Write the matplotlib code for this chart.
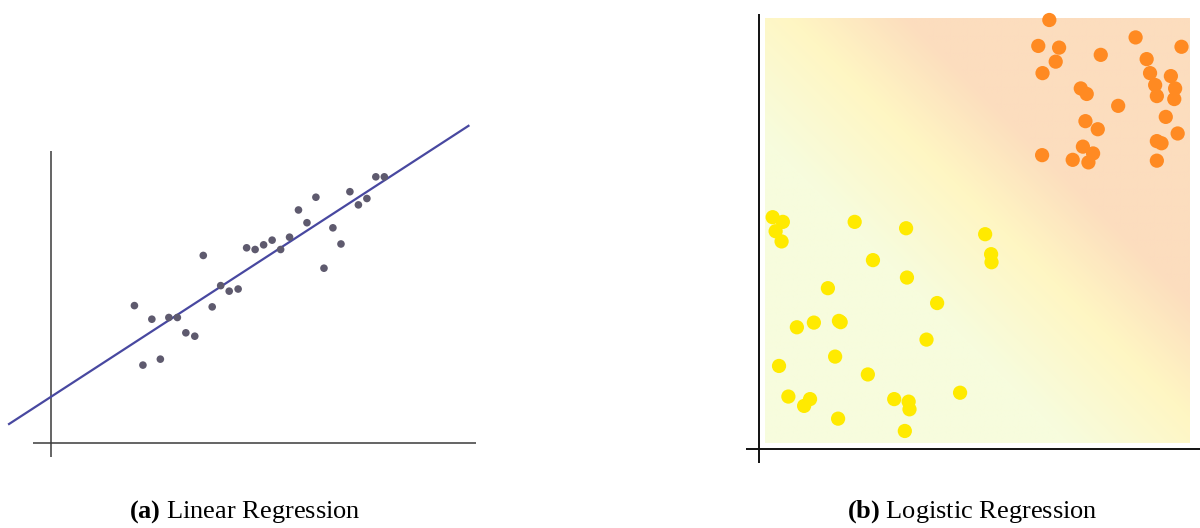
"""
Two-panel sketch: (a) linear regression fit, (b) logistic regression
decision field with two classes.
"""

import matplotlib
matplotlib.use("Agg")
import matplotlib.pyplot as plt
import numpy as np
from matplotlib.colors import LinearSegmentedColormap

plt.rcParams["mathtext.fontset"] = "custom"
plt.rcParams["mathtext.rm"] = "Liberation Serif"
plt.rcParams["mathtext.bf"] = "Liberation Serif:bold"

# ---------------------------------------------------------------------------
# Data: panel (a)
# ---------------------------------------------------------------------------
lin_x = [1.97, 2.38, 2.78, 2.98, 3.18, 3.39, 2.17, 2.58, 3.59, 3.80,
         4.00, 4.20, 4.41, 4.61, 4.81, 5.01, 5.21, 5.41, 5.62, 5.83,
         6.03, 6.24, 6.43, 6.64, 6.83, 7.04, 7.24, 7.44, 7.65, 7.85]
lin_y = [3.24, 2.92, 2.96, 2.96, 2.60, 2.52, 1.84, 1.98, 4.42, 3.21,
         3.71, 3.58, 3.63, 4.60, 4.56, 4.67, 4.78, 4.56, 4.85, 5.49,
         5.19, 5.79, 4.12, 5.07, 4.69, 5.92, 5.61, 5.76, 6.27, 6.27]
fit_slope = 0.649
fit_intercept = 1.09
fit_x_range = [-0.98, 9.83]

# ---------------------------------------------------------------------------
# Data: panel (b)
# ---------------------------------------------------------------------------
pos_x = [6.69, 6.43, 6.92, 6.84, 6.53, 7.90, 8.72, 9.80, 8.98, 9.06,
         9.55, 9.18, 9.65, 9.22, 9.63, 7.43, 7.57, 8.31, 9.43, 7.54,
         7.83, 9.71, 9.22, 9.33, 7.48, 7.72, 6.52, 7.24, 7.61, 9.22]
pos_y = [9.96, 9.35, 9.31, 8.98, 8.71, 9.14, 9.55, 9.33, 9.04, 8.71,
         8.64, 8.43, 8.35, 8.17, 8.10, 8.35, 8.22, 7.94, 7.68, 7.58,
         7.39, 7.29, 7.11, 7.06, 6.98, 6.82, 6.78, 6.67, 6.61, 6.65]
neg_x = [0.18, 0.42, 0.25, 0.39, 2.11, 3.32, 5.18, 5.32, 5.33, 2.54,
         3.34, 1.48, 4.05, 0.75, 1.15, 1.74, 1.78, 3.80, 1.65, 0.33,
         2.42, 0.55, 1.06, 0.92, 3.04, 3.38, 3.40, 4.59, 1.72, 3.29]
neg_y = [5.32, 5.21, 4.99, 4.75, 5.21, 5.06, 4.92, 4.45, 4.26, 4.31,
         3.90, 3.65, 3.30, 2.73, 2.84, 2.88, 2.85, 2.44, 2.04, 1.82,
         1.62, 1.10, 1.04, 0.88, 1.04, 0.98, 0.80, 1.19, 0.58, 0.29]
field_extent = [0, 10, 0, 10]
boundary_sum = 10.6          # x + y on the decision boundary

captions = [("(a)", "Linear Regression"), ("(b)", "Logistic Regression")]

# ---------------------------------------------------------------------------
# Figure
# ---------------------------------------------------------------------------
W, H = 1200, 528
fig = plt.figure(figsize=(W / 100, H / 100), dpi=100)
px = 42.5  # pixels per data unit in both panels


def add_panel(left, right, bottom, top, x0, y0):
    """Axes spanning pixel box, data origin at pixel (x0, y0)."""
    ax = fig.add_axes([left / W, 1 - bottom / H, (right - left) / W,
                       (bottom - top) / H])
    ax.set_xlim((left - x0) / px, (right - x0) / px)
    ax.set_ylim((y0 - bottom) / px, (y0 - top) / px)
    ax.axis("off")
    return ax


# --- (a) linear regression
ax1 = add_panel(0, 480, 470, 100, 50.7, 443.3)
ax1.plot([0, 0], [-0.32, 6.87], color="#3a3a3a", lw=1.1, solid_capstyle="butt")
ax1.plot([-0.41, 10.0], [0, 0], color="#3a3a3a", lw=1.1, solid_capstyle="butt")
fx = np.array(fit_x_range)
ax1.plot(fx, fit_slope * fx + fit_intercept, color="#4848a0", lw=1.6)
ax1.scatter(lin_x, lin_y, s=30, color="#5e5a6e", edgecolors="none", zorder=3)

# --- (b) logistic regression
ax2 = add_panel(740, 1200, 470, 0, 765, 443.3)
gx, gy = np.meshgrid(np.linspace(0, 10, 400), np.linspace(0, 10, 400))
t = (gx + gy) / 20.0
b = boundary_sum / 20.0
cmap = LinearSegmentedColormap.from_list(
    "field",
    [(0.0, "#f7fcdd"), (b - 0.17, "#f7fcdd"), (b, "#fff6c3"),
     (b + 0.14, "#fcddbe"), (1.0, "#fcddbe")])
ax2.imshow(t, extent=field_extent, origin="lower", cmap=cmap, vmin=0, vmax=1,
           aspect="auto", interpolation="bilinear", zorder=0)
ax2.plot([-0.134, -0.134], [-0.46, 10.1], color="#111111", lw=1.4,
         solid_capstyle="butt")
ax2.plot([-0.45, 10.3], [-0.14, -0.14], color="#111111", lw=1.4,
         solid_capstyle="butt")
ax2.scatter(pos_x, pos_y, s=105, color="#ff8a22", edgecolors="none", zorder=3)
ax2.scatter(neg_x, neg_y, s=105, color="#ffea00", edgecolors="none", zorder=3)

# --- captions
for (tag, name), xc in zip(captions, [245, 972]):
    fig.text(xc / W, 1 - 512 / H, f"$\\bf{{{tag}}}$ {name}", ha="center",
             va="center", fontsize=19, family="Liberation Serif")

fig.savefig("out.png", dpi=100)
